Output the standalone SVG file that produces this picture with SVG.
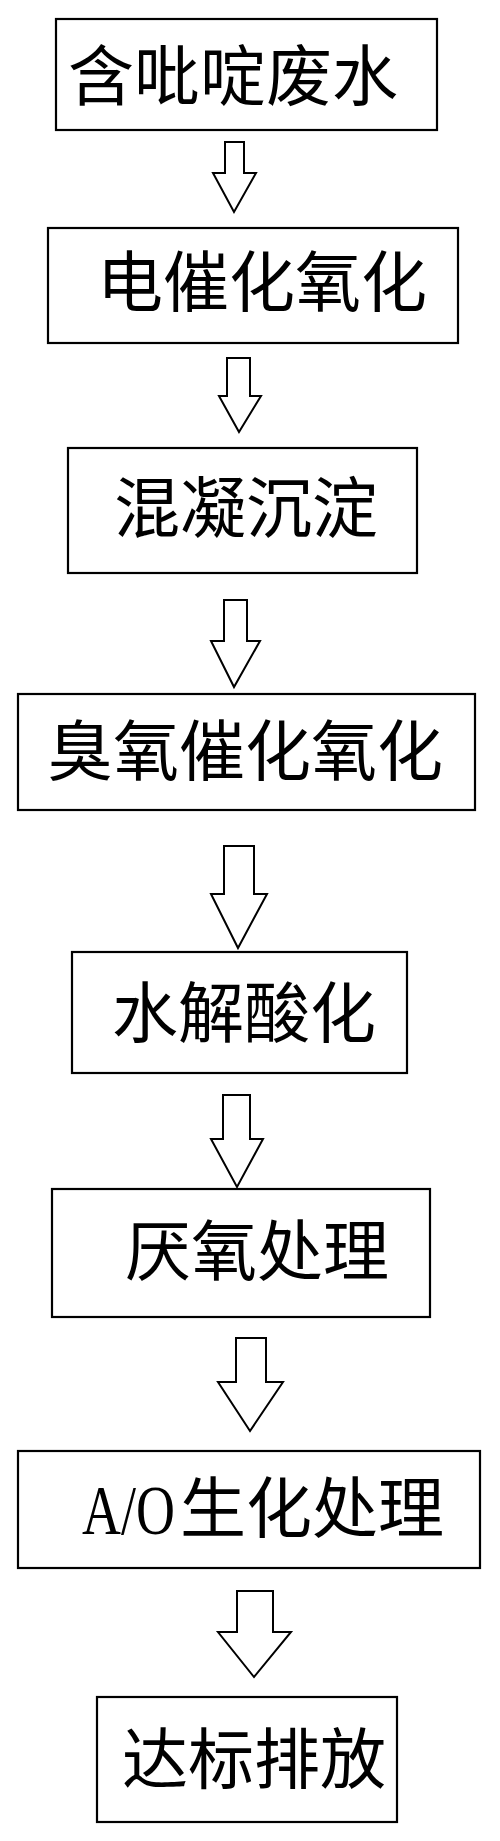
<svg xmlns="http://www.w3.org/2000/svg" width="500" height="1841" viewBox="0 0 500 1841">
<style>
.box{fill:#fff;stroke:#000;stroke-width:2.2}
.lbl{font-family:"Noto Sans CJK SC","Noto Sans CJK JP",sans-serif;font-size:66px;fill:#000}
.lat{font-family:"Liberation Serif",serif;font-size:70px;fill:#000}
.arr{fill:#fff;stroke:#000;stroke-width:2;stroke-linejoin:miter}
</style>
<rect width="500" height="1841" fill="#fff"/>
<g id="connectors">
<polygon class="arr" points="225,142 244,142 244,173 256,173 234,212 213,173 225,173"/>
<polygon class="arr" points="227,358 250,358 250,396 261,396 239,432 219,396 227,396"/>
<polygon class="arr" points="224,600 247,600 247,641 260,641 234,687 211,641 224,641"/>
<polygon class="arr" points="224,846 254,846 254,894 267,894 238,948 211,894 224,894"/>
<polygon class="arr" points="223,1095 250,1095 250,1139 263,1139 237,1187 211,1139 223,1139"/>
<polygon class="arr" points="236,1338 266,1338 266,1382 283,1382 250,1431 218,1382 236,1382"/>
<polygon class="arr" points="237,1591 273,1591 273,1632 291,1632 254,1677 218,1632 237,1632"/>
</g>
<g id="n1"><rect class="box" x="56" y="19" width="381" height="111"/><text class="lbl" x="68" y="100">含吡啶废水</text></g>
<g id="n2"><rect class="box" x="48" y="228" width="410" height="115"/><text class="lbl" x="97" y="306">电催化氧化</text></g>
<g id="n3"><rect class="box" x="68" y="448" width="349" height="125"/><text class="lbl" x="114" y="532">混凝沉淀</text></g>
<g id="n4"><rect class="box" x="18" y="694" width="457" height="116"/><text class="lbl" x="47" y="775">臭氧催化氧化</text></g>
<g id="n5"><rect class="box" x="72" y="952" width="335" height="121"/><text class="lbl" x="112" y="1037">水解酸化</text></g>
<g id="n6"><rect class="box" x="52" y="1189" width="378" height="128"/><text class="lbl" x="125" y="1275">厌氧处理</text></g>
<g id="n7"><rect class="box" x="18" y="1451" width="462" height="117"/><text class="lat" transform="translate(82,1534) scale(0.77,1)" x="0" y="0">A/O</text><text class="lbl" x="180" y="1532">生化处理</text></g>
<g id="n8"><rect class="box" x="97" y="1697" width="300" height="125"/><text class="lbl" x="122" y="1783">达标排放</text></g>
</svg>
